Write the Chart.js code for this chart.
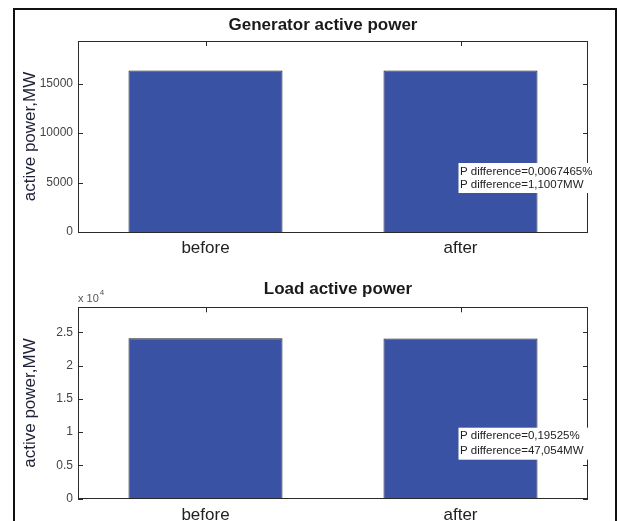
<!DOCTYPE html>
<html>
<head>
<meta charset="utf-8">
<script src="https://cdn.jsdelivr.net/npm/chart.js@4"></script>
<style>
  html,body{margin:0;padding:0;background:#fff;}
  #wrap{position:relative;width:619px;height:521px;overflow:hidden;background:#fff;}
  canvas{position:absolute;left:0;}
  #frame{position:absolute;left:13px;top:8px;width:600px;height:530px;border-left:2px solid #111;border-top:2px solid #111;border-right:2px solid #111;}
</style>
</head>
<body>
<div id="wrap">
  <canvas id="c1" width="619" height="260" style="top:0"></canvas>
  <canvas id="c2" width="619" height="261" style="top:260px"></canvas>
  <div id="frame"></div>
</div>
<script>
// ---- data ----
const categories = ['before', 'after'];
const genPower = [16315, 16314];
const loadPower = [24100, 24053];
const genTicks = [0, 5000, 10000, 15000];
const loadTicks = [0, 5000, 10000, 15000, 20000, 25000];
const genMax = 19300;
const loadMax = 28740;
const genTitle = 'Generator active power';
const loadTitle = 'Load active power';
const yTitle = 'active power,MW';
const genNotes = ['P difference=0,0067465%', 'P difference=1,1007MW'];
const loadNotes = ['P difference=0,19525%', 'P difference=47,054MW'];
const expLabel = ['x 10', '4'];

const FONT = "'Liberation Sans', Arial, sans-serif";
const barColor = '#3a52a3';

const matlabPlugin = {
  id: 'matlab',
  beforeDatasetsDraw(chart) {
    // bottom inward ticks sit under the bars
    const {ctx, chartArea: {bottom}, scales: {x}} = chart;
    ctx.save();
    ctx.strokeStyle = '#2a2a2a';
    ctx.lineWidth = 1;
    ctx.beginPath();
    categories.forEach((c, i) => {
      const px = Math.round(x.getPixelForValue(i)) + 0.5;
      ctx.moveTo(px, bottom); ctx.lineTo(px, bottom - 5);
    });
    ctx.stroke();
    ctx.restore();
  },
  afterDatasetsDraw(chart, args, o) {
    const {ctx, chartArea: {left, right, top, bottom}, scales: {x, y}} = chart;
    ctx.save();
    ctx.strokeStyle = '#2a2a2a';
    ctx.lineWidth = 1;
    ctx.strokeRect(Math.round(left) + 0.5, Math.round(top) + 0.5, Math.round(right - left) - 1, Math.round(bottom - top));
    ctx.beginPath();
    const tl = 5;
    o.yTicks.forEach(v => {
      const py = Math.round(y.getPixelForValue(v)) + 0.5;
      ctx.moveTo(left, py); ctx.lineTo(left + tl, py);
      ctx.moveTo(right, py); ctx.lineTo(right - tl, py);
    });
    categories.forEach((c, i) => {
      const px = Math.round(x.getPixelForValue(i)) + 0.5;
      ctx.moveTo(px, top); ctx.lineTo(px, top + tl);
    });
    ctx.stroke();

    // title
    ctx.fillStyle = '#1a1a1a';
    ctx.font = 'bold 17px ' + FONT;
    ctx.textAlign = 'center';
    ctx.textBaseline = 'middle';
    ctx.fillText(o.title, (left + right) / 2 + o.titleDx, o.titleY);

    // annotation box
    const bx = x.getPixelForValue(1) - 2;
    const bb = bottom - 39;
    const bt = bb - o.boxH;
    ctx.fillStyle = '#ffffff';
    ctx.fillRect(bx, bt, right - bx, o.boxH);
    ctx.fillStyle = '#222';
    ctx.font = '11.5px ' + FONT;
    ctx.textAlign = 'left';
    ctx.fillText(o.notes[0], bx + 1.5, bt + 8.5);
    ctx.fillText(o.notes[1], bx + 1.5, bt + 8.5 + o.lineGap);

    // exponent label
    if (o.exp) {
      ctx.fillStyle = '#555';
      ctx.font = '11px ' + FONT;
      ctx.textBaseline = 'alphabetic';
      ctx.fillText(o.exp[0], left, top - 5.5);
      const w = ctx.measureText(o.exp[0]).width;
      ctx.font = '8px ' + FONT;
      ctx.fillText(o.exp[1], left + w + 1, top - 12);
    }
    ctx.restore();
  }
};

function makeChart(id, values, ticks, yMax, pad, xH, fmt, opts) {
  return new Chart(document.getElementById(id), {
    type: 'bar',
    data: {
      labels: categories,
      datasets: [{
        data: values,
        backgroundColor: barColor,
        borderColor: '#1c1c30',
        borderWidth: 1,
        barPercentage: 0.604,
        categoryPercentage: 1.0
      }]
    },
    options: {
      responsive: false,
      animation: false,
      devicePixelRatio: 1,
      layout: {padding: pad},
      plugins: {
        legend: {display: false},
        tooltip: {enabled: false},
        title: {display: false},
        matlab: opts
      },
      scales: {
        x: {
          grid: {display: false, drawTicks: false},
          border: {display: false},
          ticks: {font: {family: FONT, size: 17}, color: '#222', padding: 6},
          afterFit: s => { s.height = xH; }
        },
        y: {
          min: 0,
          max: yMax,
          grid: {display: false, drawTicks: false},
          border: {display: false},
          afterBuildTicks: s => { s.ticks = ticks.map(v => ({value: v})); },
          ticks: {font: {family: FONT, size: 12}, color: '#444', padding: 5, callback: fmt},
          title: {display: true, text: yTitle, color: '#1d2036', font: {family: FONT, size: 17}, padding: {top: 20, bottom: 0}},
          afterFit: s => { s.width = 78; }
        }
      }
    },
    plugins: [matlabPlugin]
  });
}

makeChart('c1', genPower, genTicks, genMax, {top: 41, right: 31, bottom: 0, left: 0}, 28,
  v => String(v),
  {yTicks: genTicks, title: genTitle, titleDx: -10, titleY: 25, notes: genNotes, boxH: 30, lineGap: 13.5, exp: null});

makeChart('c2', loadPower, loadTicks, loadMax, {top: 47.3, right: 31, bottom: 0, left: 0}, 22.3,
  v => String(v / 1e4),
  {yTicks: loadTicks, title: loadTitle, titleDx: 5, titleY: 29, notes: loadNotes, boxH: 32, lineGap: 15, exp: expLabel});
</script>
</body>
</html>
